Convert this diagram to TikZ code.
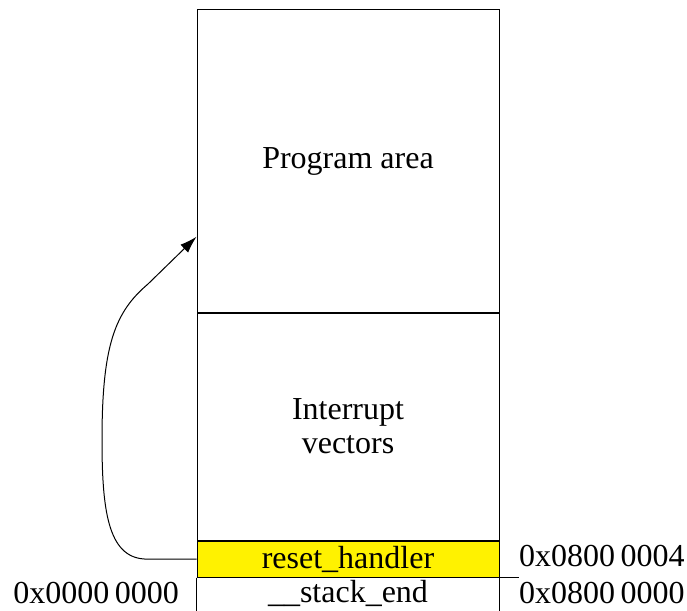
\documentclass[tikz,border=0pt]{standalone}
\usepackage{fontspec}
\setmainfont{Liberation Serif}
\usepackage{tikz}
\usetikzlibrary{positioning, calc, arrows.meta}

\begin{document}
\begin{tikzpicture}%
                    [x=1pt, y=-1pt,
                    every node/.style={font=\fontsize{32}{36}\selectfont},
                    mem/.style={draw, line width=1pt, minimum width=302pt, inner sep=0pt, align=center},
                    addr/.style={inner sep=0pt},
                    jump/.style={line width=1pt, -{Latex[length=17pt, width=11pt]}}]

                \useasboundingbox (0,0) rectangle (687,610);
                %% Memory blocks
                \node[mem, minimum height=302pt] (prog) at (348,161) {Program area};
                \node[mem, minimum height=227pt, below=0pt of prog] (vect) {Interrupt\\[-2pt]vectors};
                \node[mem, minimum height=36pt, fill=yellow, below=0pt of vect] (reset) {reset\_handler};
                %% Open block at the bottom
                \draw[line width=1pt] (reset.south west) -- ++(0,40);
                \draw[line width=1pt] (reset.south east) -- ++(0,40);
                \draw[line width=1pt] (reset.south west) -- ++(322,0);
                \node[addr] (stack) at (348,593) {\_\_stack\_end};
                %% Addresses
                \node[addr, anchor=west] (a4) at (519,556) {0x0800\,0004};
                \node[addr, anchor=west] (a0) at (519,593) {0x0800\,0000};
                \node[addr, anchor=east] (z0) at (179,593) {0x0000\,0000};
                %% Jump to the handler
                \coordinate (entry) at ($(prog.south west)!0.25!(prog.north west)$);
                \draw[jump] (reset.west) -- ++(-52,0)
                    .. controls (108,557) and (102,510) .. (102,440)
                    .. controls (102,345) and (115,312) .. (148,284) -- (entry);
\end{tikzpicture}
\end{document}
